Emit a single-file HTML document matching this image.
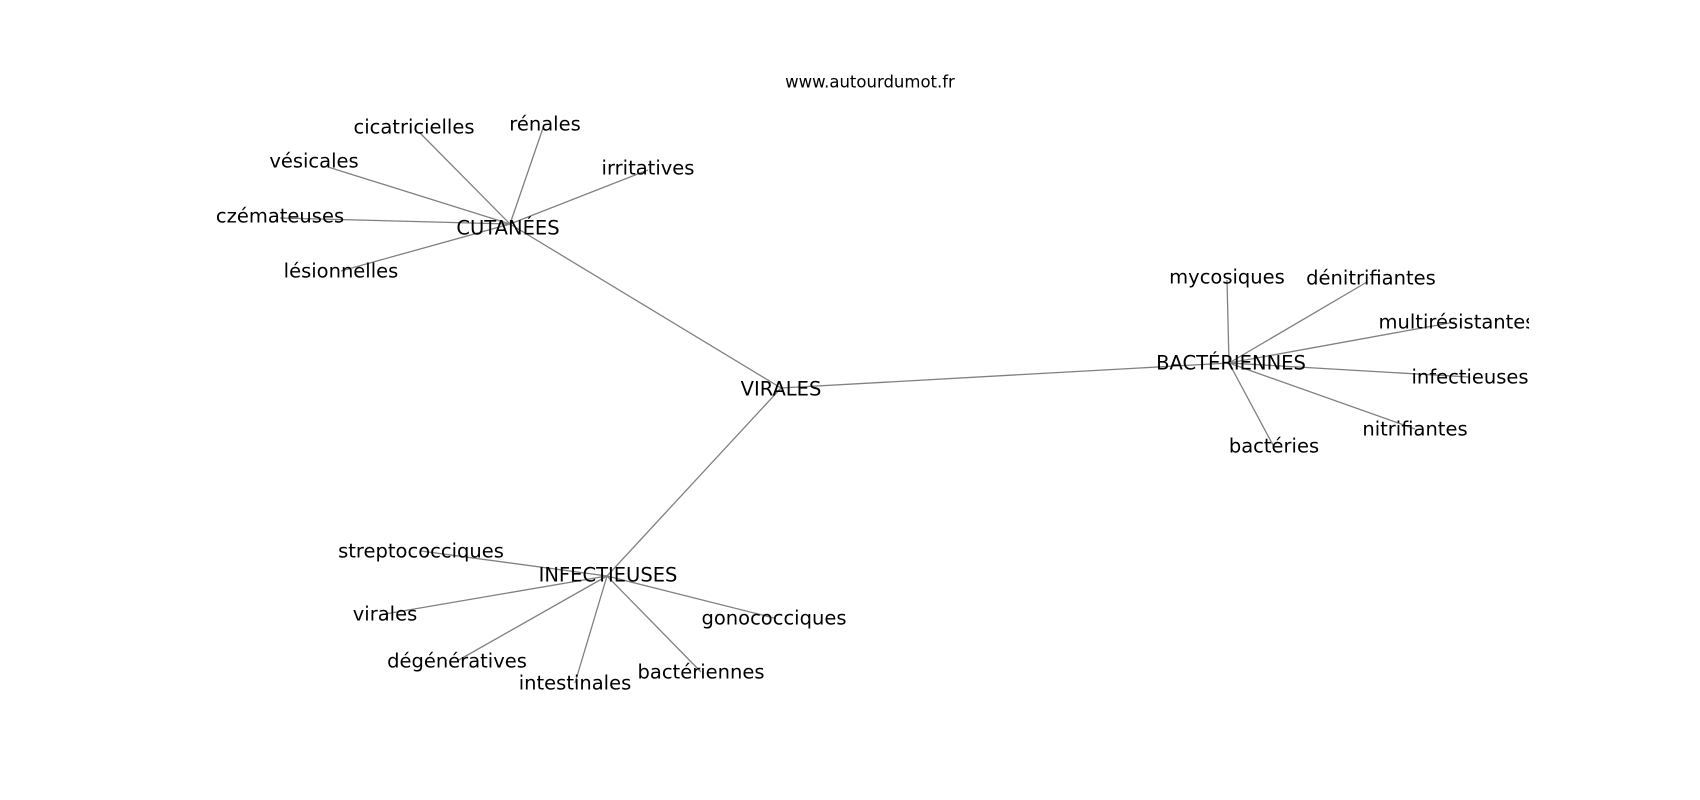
<!DOCTYPE html>
<html><head><meta charset="utf-8"><style>
html,body{margin:0;padding:0;background:#fff;width:1700px;height:800px;overflow:hidden}
svg text{font-family:"DejaVu Sans","Liberation Sans",sans-serif;fill:#000}
</style></head><body>
<svg width="1700" height="800" viewBox="0 0 1700 800" xmlns="http://www.w3.org/2000/svg">
<defs><clipPath id="ax"><rect x="216" y="0" width="1313" height="800"/></clipPath></defs>
<text x="870" y="82" font-size="16.5" text-anchor="middle" dominant-baseline="central">www.autourdumot.fr</text>
<g stroke="#808080" stroke-width="1.3" fill="none">
<line x1="781" y1="388" x2="510" y2="224"/>
<line x1="781" y1="388" x2="1229" y2="363"/>
<line x1="781" y1="388" x2="607" y2="576"/>
<line x1="510" y1="224" x2="420" y2="133"/>
<line x1="510" y1="224" x2="543" y2="128"/>
<line x1="510" y1="224" x2="648" y2="170"/>
<line x1="510" y1="224" x2="328" y2="167"/>
<line x1="510" y1="224" x2="280" y2="218"/>
<line x1="510" y1="224" x2="341" y2="271"/>
<line x1="1229" y1="363" x2="1227" y2="280"/>
<line x1="1229" y1="363" x2="1367" y2="282"/>
<line x1="1229" y1="363" x2="1455" y2="322"/>
<line x1="1229" y1="363" x2="1469" y2="377"/>
<line x1="1229" y1="363" x2="1415" y2="429"/>
<line x1="1229" y1="363" x2="1274" y2="447"/>
<line x1="607" y1="576" x2="421" y2="551"/>
<line x1="607" y1="576" x2="385" y2="614"/>
<line x1="607" y1="576" x2="457" y2="661"/>
<line x1="607" y1="576" x2="575" y2="683"/>
<line x1="607" y1="576" x2="701" y2="672"/>
<line x1="607" y1="576" x2="774" y2="618"/>
</g>
<g font-size="19.5" text-anchor="middle" dominant-baseline="central" clip-path="url(#ax)">
<text x="781" y="389">VIRALES</text>
<text x="508" y="228">CUTANÉES</text>
<text x="1231" y="363">BACTÉRIENNES</text>
<text x="608" y="575">INFECTIEUSES</text>
<text x="414" y="127">cicatricielles</text>
<text x="545" y="124">rénales</text>
<text x="648" y="168">irritatives</text>
<text x="314" y="161">vésicales</text>
<text x="274" y="216">eczémateuses</text>
<text x="341" y="271">lésionnelles</text>
<text x="1227" y="277">mycosiques</text>
<text x="1371" y="278">dénitrifiantes</text>
<text x="1457" y="322">multirésistantes</text>
<text x="1470" y="377">infectieuses</text>
<text x="1415" y="429">nitrifiantes</text>
<text x="1274" y="446">bactéries</text>
<text x="421" y="551">streptococciques</text>
<text x="385" y="614">virales</text>
<text x="457" y="661">dégénératives</text>
<text x="575" y="683">intestinales</text>
<text x="701" y="672">bactériennes</text>
<text x="774" y="618">gonococciques</text>
</g>
</svg>
</body></html>
